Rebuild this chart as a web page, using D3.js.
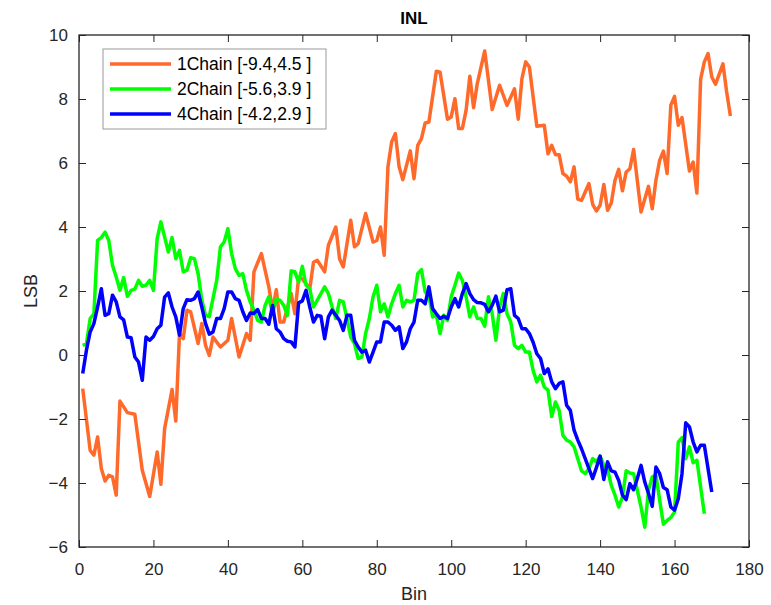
<!DOCTYPE html>
<html>
<head>
<meta charset="utf-8">
<script src="https://cdn.jsdelivr.net/npm/d3@7"></script>
<style>
  body { margin: 0; background: #fff; }
  text { font-family: "Liberation Sans", Arial, sans-serif; }
</style>
</head>
<body>
<div class="chart"></div>
<script>
// Mesures
const size = { width: 771, height: 605 };
const margin = { top: 35, bottom: 58, left: 79, right: 22 };

// data: [bin, LSB]
const chain1 = [[1,-1.05],[3,-2.98],[4,-3.13],[5,-2.56],[6,-3.55],[7,-3.94],[8,-3.76],[9,-3.81],[10,-4.38],[11,-1.44],[13,-1.8],[15,-1.85],[17,-3.6],[19,-4.42],[21,-3.03],[22,-4.04],[23,-2.3],[25,-1.08],[26,-2.06],[27,0.67],[28,0.51],[29,1.4],[30,1.35],[32,0.36],[33,0.98],[34,0.3],[35,-0.01],[36,0.56],[38,0.25],[40,0.46],[41,1.14],[43,-0.06],[45,0.67],[46,0.46],[47,2.6],[49,3.17],[51,2.13],[52,1.4],[53,2.04],[54,1.03],[55,1.03],[57,1.92],[58,1.29],[59,2.42],[60,2.38],[62,2.07],[63,2.9],[64,2.96],[66,2.6],[67,3.43],[69,4.0],[70,3.01],[71,2.75],[73,4.21],[74,3.38],[75,3.48],[77,4.42],[79,3.53],[80,3.58],[81,4.0],[82,3.12],[83,5.88],[84,6.66],[85,6.92],[86,5.88],[87,5.48],[89,6.38],[90,5.51],[91,6.55],[92,6.76],[93,7.25],[94,7.28],[96,8.87],[97,8.84],[99,7.37],[100,7.44],[101,8.01],[102,7.08],[103,7.08],[104,7.65],[105,8.71],[106,7.73],[107,8.48],[109,9.5],[111,7.67],[113,8.43],[115,7.8],[117,8.32],[118,7.37],[119,8.64],[120,9.16],[121,9.0],[123,7.15],[125,7.18],[126,6.29],[127,6.55],[128,6.26],[129,6.26],[130,5.67],[131,5.59],[132,5.41],[133,5.88],[134,4.87],[135,4.83],[137,5.36],[138,4.71],[139,4.5],[140,4.68],[141,5.33],[142,4.52],[143,4.75],[144,5.46],[145,5.8],[146,5.13],[147,5.72],[148,5.82],[149,6.42],[151,4.47],[153,5.27],[154,4.57],[155,5.46],[156,6.08],[157,6.37],[158,5.67],[159,7.81],[160,8.08],[161,7.18],[162,7.42],[164,5.75],[165,6.03],[166,5.06],[167,8.61],[168,9.16],[169,9.42],[170,8.69],[171,8.46],[173,9.1],[174,8.22],[175,7.47]];

const chain2 = [[1,0.3],[2,0.35],[3,1.14],[4,1.29],[5,3.58],[6,3.67],[7,3.84],[8,3.58],[9,2.8],[10,2.44],[11,2.02],[12,2.42],[13,1.83],[14,2.02],[15,2.06],[16,2.33],[17,2.15],[18,2.18],[19,2.33],[20,2.02],[21,3.64],[22,4.16],[23,3.69],[24,3.22],[25,3.67],[26,3.01],[27,3.27],[28,2.6],[29,2.65],[30,3.04],[31,3.01],[32,2.54],[33,1.71],[34,1.24],[35,1.2],[37,2.33],[38,3.38],[39,3.53],[40,3.95],[41,3.17],[42,2.7],[43,2.49],[44,2.54],[45,2.02],[46,1.66],[47,1.4],[48,1.08],[49,1.03],[50,1.55],[51,1.82],[52,1.29],[53,1.76],[54,1.71],[55,1.55],[56,1.24],[57,2.63],[58,2.6],[59,2.28],[60,2.77],[61,2.18],[62,2.07],[63,1.5],[64,1.71],[66,2.13],[67,1.92],[68,1.5],[69,1.14],[70,1.71],[71,1.66],[72,1.14],[73,0.56],[74,0.36],[75,-0.11],[76,-0.06],[77,0.67],[78,1.14],[79,1.82],[80,2.18],[81,1.35],[82,1.6],[83,1.19],[84,1.6],[85,1.92],[86,2.18],[87,1.5],[88,1.71],[89,1.66],[90,1.71],[91,2.54],[92,2.67],[93,1.97],[94,1.87],[95,1.19],[96,1.24],[97,0.67],[98,1.24],[99,1.08],[100,1.82],[101,2.18],[102,2.56],[103,2.33],[104,1.82],[105,1.19],[106,1.5],[107,1.14],[108,1.14],[109,0.9],[110,1.82],[111,1.29],[112,0.46],[113,1.5],[114,1.92],[115,1.29],[116,1.03],[117,0.3],[118,0.2],[119,0.3],[120,0.09],[121,0.09],[122,-0.48],[123,-0.84],[124,-0.63],[125,-1.0],[126,-1.1],[127,-1.92],[128,-1.47],[129,-1.73],[130,-2.51],[131,-2.66],[132,-2.72],[133,-2.87],[134,-3.24],[135,-3.62],[136,-3.71],[137,-3.55],[138,-3.24],[139,-3.34],[140,-3.16],[141,-3.45],[142,-3.58],[143,-4.07],[144,-4.38],[145,-4.75],[146,-4.44],[147,-3.62],[148,-3.69],[149,-3.71],[150,-4.23],[151,-4.75],[152,-5.38],[153,-4.23],[154,-3.81],[155,-3.76],[156,-4.54],[157,-5.29],[158,-5.17],[159,-5.08],[160,-4.91],[161,-2.72],[162,-2.58],[163,-3.24],[164,-2.87],[165,-3.37],[166,-3.29],[167,-4.12],[168,-4.96]];

const chain4 = [[1,-0.58],[2,0.15],[3,0.72],[4,0.98],[5,1.5],[6,2.07],[7,1.24],[8,1.29],[9,1.87],[10,1.66],[11,1.19],[12,1.1],[13,0.56],[14,0.54],[15,-0.06],[16,-0.22],[17,-0.79],[18,0.56],[19,0.46],[20,0.58],[21,0.82],[22,0.93],[23,1.81],[24,1.94],[25,1.5],[26,1.19],[27,0.62],[28,1.45],[29,1.73],[30,1.71],[31,1.76],[32,1.97],[33,1.5],[34,0.98],[35,0.65],[36,0.72],[37,1.14],[38,1.14],[39,1.45],[40,1.97],[41,1.97],[42,1.76],[43,1.71],[44,1.35],[45,1.08],[46,1.31],[47,1.3],[48,1.42],[49,1.14],[50,1.14],[51,0.96],[52,1.55],[53,0.82],[54,0.72],[55,0.51],[56,0.43],[57,0.41],[58,0.25],[59,1.63],[60,1.69],[61,2.02],[62,1.5],[63,1.03],[64,1.24],[65,1.21],[66,0.51],[67,1.19],[68,1.4],[69,1.24],[70,1.08],[71,0.77],[72,1.24],[73,1.24],[74,0.46],[75,0.25],[76,0.09],[77,0.15],[78,-0.22],[79,0.09],[80,0.41],[81,0.41],[82,1.03],[83,1.03],[84,0.93],[85,0.77],[86,0.88],[87,0.2],[88,0.41],[89,0.82],[90,1.03],[91,1.71],[92,1.71],[93,1.6],[94,2.13],[95,1.45],[96,1.29],[97,1.14],[98,1.21],[99,1.14],[100,1.5],[101,1.76],[102,1.5],[103,1.92],[104,2.23],[105,1.92],[106,1.73],[107,1.64],[108,1.63],[109,1.58],[110,1.35],[111,1.55],[112,1.84],[113,1.35],[114,1.4],[115,2.04],[116,2.07],[117,1.24],[118,1.14],[119,0.82],[120,0.82],[121,0.67],[122,0.4],[123,0.04],[124,-0.11],[125,-0.58],[126,-0.43],[127,-0.84],[128,-1.05],[129,-0.89],[130,-0.84],[131,-1.57],[132,-1.73],[133,-2.35],[134,-2.66],[135,-2.93],[136,-3.24],[137,-3.55],[138,-3.86],[139,-3.52],[140,-3.16],[141,-3.89],[142,-3.34],[143,-3.62],[144,-3.66],[145,-3.92],[146,-4.38],[147,-4.52],[148,-4.02],[149,-4.21],[150,-3.86],[151,-3.45],[152,-3.97],[153,-4.33],[154,-4.73],[155,-3.5],[156,-3.71],[157,-4.14],[158,-4.21],[159,-4.75],[160,-4.85],[161,-4.49],[162,-3.71],[163,-2.12],[164,-2.25],[165,-2.72],[166,-3.03],[167,-2.82],[168,-2.82],[169,-3.55],[170,-4.28]];

const seriesNames = ["1Chain [-9.4,4.5 ]", "2Chain [-5.6,3.9 ]", "4Chain [-4.2,2.9 ]"];
const seriesColors = ["#ff6a2b", "#00ff00", "#0000ff"];
const xTicks = [0, 20, 40, 60, 80, 100, 120, 140, 160, 180];
const yTicks = [-6, -4, -2, 0, 2, 4, 6, 8, 10];

const svg = d3.select(".chart")
              .append("svg")
              .attr("width", size.width)
              .attr("height", size.height);

const x = d3.scaleLinear().domain([0, 180]).range([margin.left, size.width - margin.right]);
const y = d3.scaleLinear().domain([-6, 10]).range([size.height - margin.bottom, margin.top]);

const axisColor = "#262626";

// series
const line = d3.line().x((d) => x(d[0])).y((d) => y(d[1]));
const allSeries = [chain1, chain2, chain4];

svg.append("g")
   .selectAll("path")
   .data(allSeries)
   .enter()
   .append("path")
   .attr("d", line)
   .attr("fill", "none")
   .attr("stroke", (d, i) => seriesColors[i])
   .attr("stroke-width", 3.5)
   .attr("stroke-linejoin", "round");

// axes (ticks inside, box with ticks)
const styleAxis = (g) => {
    g.select(".domain").remove();
    g.selectAll("line").attr("stroke", axisColor).attr("stroke-width", 1);
    g.selectAll("text").attr("fill", axisColor).attr("font-size", 17);
};

svg.append("g")
   .attr("transform", `translate(0,${y(-6)})`)
   .call(d3.axisBottom(x).tickValues(xTicks).tickSizeInner(-7).tickSizeOuter(0).tickPadding(16))
   .call(styleAxis);
svg.append("g")
   .attr("transform", `translate(0,${y(10)})`)
   .call(d3.axisTop(x).tickValues(xTicks).tickSizeInner(-7).tickSizeOuter(0).tickFormat(""))
   .call(styleAxis);
svg.append("g")
   .attr("transform", `translate(${x(0)},0)`)
   .call(d3.axisLeft(y).tickValues(yTicks).tickSizeInner(-7).tickSizeOuter(0).tickPadding(11))
   .call(styleAxis);
svg.append("g")
   .attr("transform", `translate(${x(180)},0)`)
   .call(d3.axisRight(y).tickValues(yTicks).tickSizeInner(-7).tickSizeOuter(0).tickFormat(""))
   .call(styleAxis);

svg.append("rect")
   .attr("x", x(0))
   .attr("y", y(10))
   .attr("width", x(180) - x(0))
   .attr("height", y(-6) - y(10))
   .attr("fill", "none")
   .attr("stroke", axisColor)
   .attr("stroke-width", 1.3);

// labels
svg.append("text")
   .attr("x", (x(0) + x(180)) / 2)
   .attr("y", 24)
   .attr("text-anchor", "middle")
   .attr("font-size", 17)
   .attr("font-weight", "bold")
   .attr("fill", "#000")
   .text("INL");
svg.append("text")
   .attr("x", (x(0) + x(180)) / 2)
   .attr("y", 600)
   .attr("text-anchor", "middle")
   .attr("font-size", 18)
   .attr("fill", axisColor)
   .text("Bin");
svg.append("text")
   .attr("transform", `translate(37,${(y(-6) + y(10)) / 2}) rotate(-90)`)
   .attr("text-anchor", "middle")
   .attr("font-size", 18)
   .attr("fill", axisColor)
   .text("LSB");

// legend
const legend = svg.append("g").attr("transform", "translate(103,49)");
legend.append("rect")
      .attr("width", 223)
      .attr("height", 80)
      .attr("fill", "#fff")
      .attr("stroke", "#9a9a9a")
      .attr("stroke-width", 1);
const items = legend.selectAll("g.item")
      .data(seriesNames)
      .enter()
      .append("g")
      .attr("class", "item")
      .attr("transform", (d, i) => `translate(0,${15 + i * 25})`);
items.append("line")
     .attr("x1", 7)
     .attr("x2", 68)
     .attr("stroke", (d, i) => seriesColors[i])
     .attr("stroke-width", 3.5);
items.append("text")
     .attr("x", 74)
     .attr("dy", 6)
     .attr("font-size", 17.5)
     .attr("fill", "#000")
     .text((d) => d);
</script>
</body>
</html>
